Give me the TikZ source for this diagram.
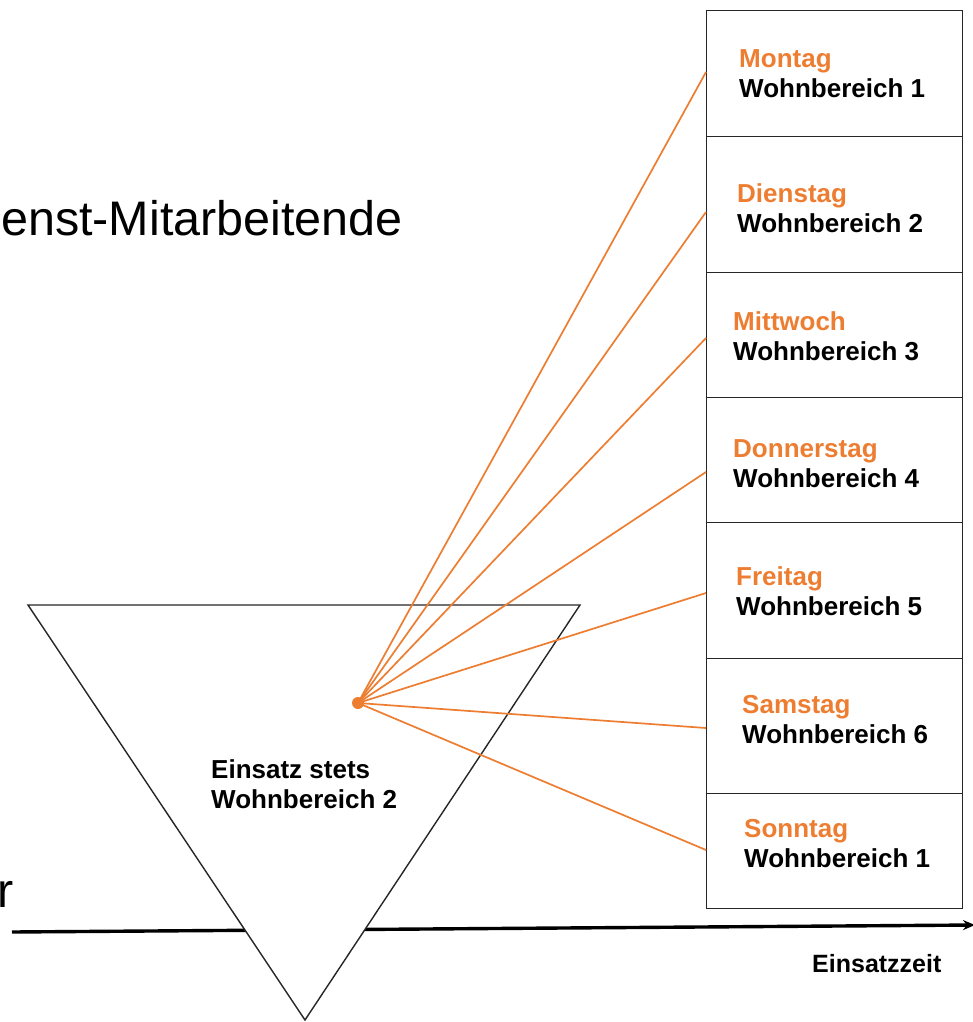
\documentclass[tikz,border=0pt]{standalone}
\usepackage{fontspec}
\setmainfont{Liberation Sans}
\usetikzlibrary{arrows.meta}
\definecolor{orng}{RGB}{237,125,49}
\tikzset{
  cell/.style={draw=black!85,line width=1.3pt,minimum width=256pt,inner sep=0pt,anchor=north west},
  day/.style={anchor=base west,inner sep=0pt,text=orng,font=\bfseries\fontsize{26}{30}\selectfont},
  wb/.style={anchor=base west,inner sep=0pt,font=\bfseries\fontsize{26}{30}\selectfont},
  big/.style={inner sep=0pt,font=\fontsize{48.5}{55}\selectfont},
  ray/.style={draw=orng,line width=1.7pt},
}
\begin{document}
\begin{tikzpicture}[x=1pt,y=-1pt]
\useasboundingbox (0,0) rectangle (973,1022);
% big cut text
\node[big,anchor=base east] (t1) at (403,235) {enst-Mitarbeitende};
\node[big,anchor=base east] (t2) at (14,907) {r};
% time axis
\coordinate (a0) at (12,932);
\coordinate (a1) at (975,925);
\draw[line width=3.4pt,-{Stealth[length=12pt,width=10pt]}] (a0) -- (a1);
\node[wb,anchor=base west,font=\bfseries\fontsize{25}{26}\selectfont] (ez) at (812,972) {Einsatzzeit};
% triangle
\coordinate (tl) at (28,605);
\coordinate (tr) at (580,605);
\coordinate (tb) at (305,1020);
\draw[fill=white,draw=black!85,line width=1.4pt,line join=miter] (tl) -- (tr) -- (tb) -- cycle;
\node[wb] (es1) at (211,778) {Einsatz stets};
\node[wb] (es2) at (211,808) {Wohnbereich 2};
% cells
\node[cell,minimum height=126pt] (c1) at (706,10) {};
\node[cell,minimum height=136pt] (c2) at (706,136) {};
\node[cell,minimum height=125pt] (c3) at (706,272) {};
\node[cell,minimum height=125pt] (c4) at (706,397) {};
\node[cell,minimum height=136pt] (c5) at (706,522) {};
\node[cell,minimum height=135pt] (c6) at (706,658) {};
\node[cell,minimum height=115pt] (c7) at (706,793) {};
% labels
\node[day] (d1) at (739,68) {Montag};
\node[wb]  (w1) at (739,98) {Wohnbereich 1};
\node[day] (d2) at (737,202) {Dienstag};
\node[wb]  (w2) at (737,232) {Wohnbereich 2};
\node[day] (d3) at (733,330) {Mittwoch};
\node[wb]  (w3) at (733,360) {Wohnbereich 3};
\node[day] (d4) at (733,457) {Donnerstag};
\node[wb]  (w4) at (733,487) {Wohnbereich 4};
\node[day] (d5) at (736,585) {Freitag};
\node[wb]  (w5) at (736,615) {Wohnbereich 5};
\node[day] (d6) at (742,713) {Samstag};
\node[wb]  (w6) at (742,743) {Wohnbereich 6};
\node[day] (d7) at (744,837) {Sonntag};
\node[wb]  (w7) at (744,867) {Wohnbereich 1};
% hub and rays
\node[circle,fill=orng,minimum size=12pt,inner sep=0pt] (hub) at (358,703) {};
\coordinate (e1) at (706,72);
\coordinate (e2) at (706,212);
\coordinate (e3) at (706,338);
\coordinate (e4) at (706,472);
\coordinate (e5) at (706,593);
\coordinate (e6) at (706,728);
\coordinate (e7) at (706,850);
\foreach \i in {1,...,7} \draw[ray] (hub.center) -- (e\i);
\end{tikzpicture}
\end{document}
